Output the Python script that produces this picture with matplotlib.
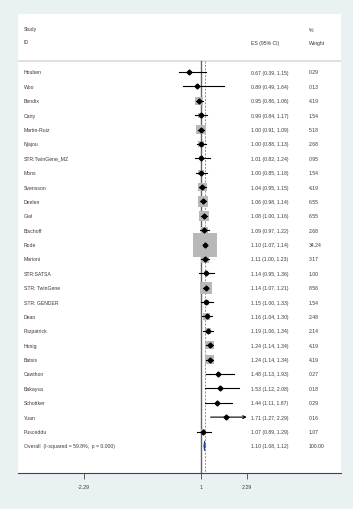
import matplotlib
matplotlib.use("Agg")
import matplotlib.pyplot as plt
from matplotlib.patches import Polygon
import matplotlib.transforms as mtransforms
import numpy as np

studies = ["Houben", "Woo", "Bendix", "Carty", "Martin-Ruiz", "Njajou", "STR:TwinGene_MZ",
           "Mons", "Svensson", "Deelen", "Giel", "Bischoff", "Rode", "Marioni", "STR:SATSA",
           "STR: TwinGene", "STR: GENDER", "Dean", "Fitzpatrick", "Honig", "Batsis",
           "Cawthon", "Bakaysa", "Schottker", "Yuan", "Pusceddu"]
es = [0.67, 0.89, 0.95, 0.99, 1.00, 1.00, 1.01, 1.00, 1.04, 1.06, 1.08, 1.09, 1.10, 1.11,
      1.14, 1.14, 1.15, 1.16, 1.19, 1.24, 1.24, 1.48, 1.53, 1.44, 1.71, 1.07]
lo = [0.39, 0.49, 0.86, 0.84, 0.91, 0.88, 0.82, 0.85, 0.95, 0.98, 1.00, 0.97, 1.07, 1.00,
      0.95, 1.07, 1.00, 1.04, 1.06, 1.14, 1.14, 1.13, 1.12, 1.11, 1.27, 0.89]
hi = [1.15, 1.64, 1.06, 1.17, 1.09, 1.13, 1.24, 1.18, 1.15, 1.14, 1.16, 1.22, 1.14, 1.23,
      1.36, 1.21, 1.33, 1.30, 1.34, 1.34, 1.34, 1.93, 2.08, 1.87, 2.29, 1.29]
weights = [0.29, 0.13, 4.19, 1.54, 5.18, 2.68, 0.95, 1.54, 4.19, 6.55, 6.55, 2.68, 34.24, 3.17,
           1.00, 8.56, 1.54, 2.48, 2.14, 4.19, 4.19, 0.27, 0.18, 0.29, 0.16, 1.07]
overall_label = "Overall  (I-squared = 59.8%,  p = 0.000)"
overall = (1.10, 1.08, 1.12, 100.00)
xticks = [-2.29, 1, 2.29]
xticklabels = ["-2.29", "1", "2.29"]

W, H = 353, 510
fig = plt.figure(figsize=(W / 100, H / 100), dpi=100)
fig.patch.set_facecolor("#eaf1f3")

ax_l, ax_r, ax_t, ax_b = 18, 341, 15, 474
ax = fig.add_axes([ax_l / W, 1 - ax_b / H, (ax_r - ax_l) / W, (ax_b - ax_t) / H])
ax.set_facecolor("white")

row0, drow = 73, 14.38
pxu = 35.5
x0px = 201
ax.set_xlim(1 - (x0px - ax_l) / pxu, 1 + (ax_r - x0px) / pxu)
ax.set_ylim((ax_b - row0) / drow, (ax_t - row0) / drow)

for s in ["top", "left", "right"]:
    ax.spines[s].set_visible(False)
ax.spines["bottom"].set_color("#444444")
ax.spines["bottom"].set_linewidth(0.8)
ax.set_yticks([])
ax.set_xticks(xticks)
ax.set_xticklabels(xticklabels, fontsize=3.8, color="#3a3a3a", family="Liberation Sans")
ax.tick_params(axis="x", length=4, width=0.6, color="#444444", pad=4)

fs = 3.7
tc = "#3a3a3a"
fam = "Liberation Sans"
trans = mtransforms.blended_transform_factory(ax.transAxes, ax.transData)
xl, xes, xw = 6 / 323, 233 / 323, 291 / 323

sep = (62 - row0) / drow
ax.axhline(sep, color="#dddddd", lw=1.3, zorder=1)

ax.text(xl, (30 - row0) / drow, "Study", transform=trans, fontsize=fs, color=tc, family=fam, va="center")
ax.text(xl, (43 - row0) / drow, "ID", transform=trans, fontsize=fs, color=tc, family=fam, va="center")
ax.text(xes, (43 - row0) / drow, "ES (95% CI)", transform=trans, fontsize=fs, color=tc, family=fam, va="center")
ax.text(xw, (30 - row0) / drow, "%", transform=trans, fontsize=fs, color=tc, family=fam, va="center")
ax.text(xw, (43 - row0) / drow, "Weight", transform=trans, fontsize=fs, color=tc, family=fam, va="center")

ybot = ax.get_ylim()[0]
ax.plot([1, 1], [sep, ybot], color="#666666", lw=1.0, zorder=2)
ax.plot([overall[0], overall[0]], [sep, ybot], color="#e07070", lw=0.7,
        linestyle=(0, (2, 1.5)), zorder=2)

n = len(studies)
rows = np.arange(n)
side_px = 24 * np.sqrt(np.array(weights) / 34.24)
ax.scatter(es, rows, marker="s", s=(side_px * 0.72) ** 2, color="#b8b8b8", lw=0, zorder=3)

for i in range(n):
    if studies[i] == "Yuan":
        ax.annotate("", xy=(hi[i], i), xytext=(lo[i], i),
                    arrowprops=dict(arrowstyle="->", color="black", lw=0.8,
                                    shrinkA=0, shrinkB=0, mutation_scale=5), zorder=4)
    else:
        ax.plot([lo[i], hi[i]], [i, i], color="black", lw=0.8, zorder=4)
    ax.plot(es[i], i, marker="D", markersize=2.5, color="black", zorder=5)
    ax.text(xl, i, studies[i], transform=trans, fontsize=fs, color=tc, family=fam, va="center")
    ax.text(xes, i, f"{es[i]:.2f} ({lo[i]:.2f}, {hi[i]:.2f})", transform=trans,
            fontsize=fs, color=tc, family=fam, va="center")
    ax.text(xw, i, f"{weights[i]:.2f}", transform=trans, fontsize=fs, color=tc,
            family=fam, va="center")

yo = n
e, l, h, w = overall
dh = 0.35
ax.add_patch(Polygon([[l, yo], [e, yo - dh], [h, yo], [e, yo + dh]], closed=True,
                     facecolor="#2a3fa0", edgecolor="#2a3fa0", lw=0.6, zorder=5))
ax.text(xl, yo, overall_label, transform=trans, fontsize=fs, color=tc, family=fam, va="center")
ax.text(xes, yo, f"{e:.2f} ({l:.2f}, {h:.2f})", transform=trans, fontsize=fs, color=tc,
        family=fam, va="center")
ax.text(xw, yo, f"{w:.2f}", transform=trans, fontsize=fs, color=tc, family=fam, va="center")

fig.savefig("out.png", dpi=100, facecolor=fig.get_facecolor())
